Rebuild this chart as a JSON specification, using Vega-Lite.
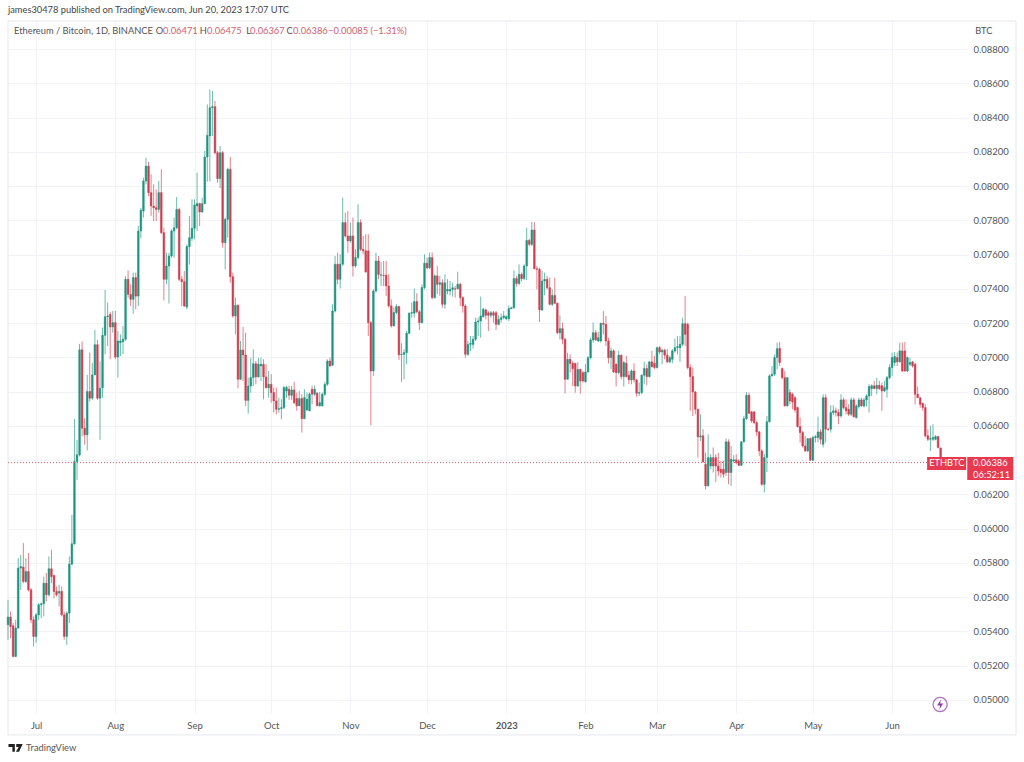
{
"$schema":"https://vega.github.io/schema/vega-lite/v6.json",
"width":960,"height":692,
"autosize":{"type":"none"},
"padding":{"left":8,"top":21,"right":56,"bottom":49},
"background":"#ffffff",
"view":{"stroke":null},
"title":{"text":"james30478 published on TradingView.com, Jun 20, 2023 17:07 UTC","anchor":"start","frame":"group","font":"Lato","fontSize":9.3,"fontWeight":"normal","color":"#444444","offset":5},
"config":{"font":"Lato","axisRight":{"title":null,"domain":false,"ticks":false,"grid":true,"gridColor":"#f1f3f8","labelPadding":5,"labelFont":"Lato","labelFontSize":9.5,"labelColor":"#555555","format":".5f","tickCount":20}},
"datasets":{
"frame":[{"d":"2022-06-20","d2":"2023-07-19T12:00:00Z","y":0.08964,"y2":0.04796}],
"last":[{"d":"2022-06-20","d2":"2023-06-30T17:00:00Z","y":0.06386}],
"boxes":[{"d":"2023-06-14T17:00:00Z","d2":"2023-06-30","y":0.06419,"y2":0.06343},{"d":"2023-06-30T10:00:00Z","d2":"2023-07-18T10:00:00Z","y":0.06419,"y2":0.06284}],
"labels":[
{"label":"Ethereum / Bitcoin, 1D, BINANCE","d":"2022-06-22T09:00:00Z","y":0.08906,"kind":"key"},
{"label":"O","d":"2022-08-16T19:00:00Z","y":0.08906,"kind":"key"},
{"label":"0.06471","d":"2022-08-19T17:00:00Z","y":0.08906,"kind":"val"},
{"label":"H","d":"2022-09-03","y":0.08906,"kind":"key"},
{"label":"0.06475","d":"2022-09-05T22:00:00Z","y":0.08906,"kind":"val"},
{"label":"L","d":"2022-09-21T05:00:00Z","y":0.08906,"kind":"key"},
{"label":"0.06367","d":"2022-09-22T18:00:00Z","y":0.08906,"kind":"val"},
{"label":"C","d":"2022-10-07","y":0.08906,"kind":"key"},
{"label":"0.06386","d":"2022-10-09T14:00:00Z","y":0.08906,"kind":"val"},
{"label":"−0.00085 (−1.31%)","d":"2022-10-23T07:00:00Z","y":0.08906,"kind":"val"},
{"label":"BTC","d":"2023-07-03T12:00:00Z","y":0.08906,"kind":"key"},
{"label":"ETHBTC","d":"2023-06-15T12:00:00Z","y":0.06381,"kind":"onred"},
{"label":"0.06386","d":"2023-07-02T17:00:00Z","y":0.06384,"kind":"onred"},
{"label":"06:52:11","d":"2023-07-02T17:00:00Z","y":0.06316,"kind":"onred"},
{"label":"TradingView","d":"2022-06-27T02:00:00Z","y":0.0472,"kind":"key"}
],
"ring":[{"d":"2023-06-19T19:00:00Z","y":0.04974}],
"logo":[{"d":"2022-06-22T23:00:00Z","y":0.0472}],
"candles":[
{"d":"2022-06-20","o":0.05439,"h":0.05585,"l":0.05351,"c":0.05484},
{"d":"2022-06-21","o":0.05484,"h":0.05517,"l":0.05361,"c":0.05429},
{"d":"2022-06-22","o":0.05433,"h":0.05449,"l":0.0525,"c":0.05254},
{"d":"2022-06-23","o":0.05254,"h":0.05468,"l":0.0525,"c":0.05419},
{"d":"2022-06-24","o":0.05419,"h":0.05828,"l":0.05419,"c":0.0577},
{"d":"2022-06-25","o":0.0577,"h":0.05848,"l":0.05643,"c":0.05779},
{"d":"2022-06-26","o":0.05776,"h":0.05916,"l":0.05682,"c":0.05692},
{"d":"2022-06-27","o":0.05692,"h":0.05828,"l":0.05682,"c":0.0575},
{"d":"2022-06-28","o":0.0575,"h":0.05857,"l":0.05634,"c":0.05643},
{"d":"2022-06-29","o":0.05643,"h":0.05653,"l":0.05449,"c":0.05468},
{"d":"2022-06-30","o":0.05468,"h":0.05488,"l":0.05312,"c":0.05371},
{"d":"2022-07-01","o":0.05371,"h":0.05507,"l":0.05332,"c":0.05497},
{"d":"2022-07-02","o":0.05497,"h":0.05565,"l":0.05468,"c":0.05556},
{"d":"2022-07-03","o":0.05556,"h":0.05569,"l":0.05478,"c":0.05562},
{"d":"2022-07-04","o":0.05562,"h":0.0572,"l":0.05488,"c":0.05682},
{"d":"2022-07-05","o":0.05682,"h":0.05741,"l":0.05575,"c":0.05614},
{"d":"2022-07-06","o":0.05614,"h":0.05838,"l":0.05604,"c":0.05766},
{"d":"2022-07-07","o":0.05766,"h":0.05877,"l":0.05682,"c":0.0572},
{"d":"2022-07-08","o":0.05727,"h":0.05731,"l":0.05595,"c":0.05634},
{"d":"2022-07-09","o":0.05634,"h":0.05663,"l":0.05604,"c":0.05614},
{"d":"2022-07-10","o":0.05624,"h":0.05672,"l":0.05546,"c":0.05634},
{"d":"2022-07-11","o":0.05634,"h":0.05663,"l":0.05488,"c":0.05497},
{"d":"2022-07-12","o":0.05497,"h":0.05517,"l":0.05351,"c":0.05371},
{"d":"2022-07-13","o":0.05371,"h":0.05517,"l":0.05322,"c":0.05507},
{"d":"2022-07-14","o":0.05507,"h":0.05838,"l":0.05449,"c":0.05793},
{"d":"2022-07-15","o":0.05793,"h":0.06081,"l":0.05789,"c":0.05912},
{"d":"2022-07-16","o":0.05912,"h":0.0664,"l":0.05906,"c":0.06392},
{"d":"2022-07-17","o":0.06392,"h":0.06519,"l":0.06285,"c":0.06431},
{"d":"2022-07-18","o":0.06431,"h":0.07079,"l":0.06422,"c":0.07044},
{"d":"2022-07-19","o":0.07044,"h":0.07093,"l":0.06538,"c":0.06587},
{"d":"2022-07-20","o":0.06587,"h":0.06645,"l":0.0649,"c":0.06548},
{"d":"2022-07-21","o":0.06548,"h":0.06898,"l":0.06457,"c":0.06801},
{"d":"2022-07-22","o":0.06801,"h":0.07029,"l":0.06743,"c":0.06762},
{"d":"2022-07-23","o":0.06762,"h":0.06967,"l":0.06752,"c":0.06898},
{"d":"2022-07-24","o":0.06898,"h":0.07161,"l":0.06898,"c":0.07074},
{"d":"2022-07-25","o":0.07074,"h":0.07103,"l":0.06752,"c":0.06762},
{"d":"2022-07-26","o":0.06762,"h":0.06976,"l":0.06519,"c":0.0682},
{"d":"2022-07-27","o":0.06823,"h":0.07174,"l":0.06765,"c":0.07129},
{"d":"2022-07-28","o":0.07129,"h":0.07394,"l":0.07018,"c":0.07238},
{"d":"2022-07-29","o":0.07238,"h":0.0732,"l":0.07067,"c":0.07242},
{"d":"2022-07-30","o":0.07251,"h":0.07267,"l":0.06989,"c":0.07178},
{"d":"2022-07-31","o":0.07178,"h":0.07271,"l":0.07144,"c":0.07203},
{"d":"2022-08-01","o":0.07203,"h":0.07271,"l":0.06989,"c":0.07002},
{"d":"2022-08-02","o":0.07002,"h":0.07154,"l":0.06882,"c":0.07096},
{"d":"2022-08-03","o":0.07086,"h":0.07135,"l":0.07008,"c":0.07096},
{"d":"2022-08-04","o":0.07092,"h":0.07183,"l":0.07018,"c":0.07106},
{"d":"2022-08-05","o":0.07106,"h":0.07475,"l":0.07096,"c":0.07456},
{"d":"2022-08-06","o":0.07456,"h":0.07508,"l":0.07349,"c":0.07368},
{"d":"2022-08-07","o":0.07368,"h":0.07427,"l":0.073,"c":0.07339},
{"d":"2022-08-08","o":0.07339,"h":0.07495,"l":0.07255,"c":0.07466},
{"d":"2022-08-09","o":0.07466,"h":0.07495,"l":0.07281,"c":0.07358},
{"d":"2022-08-10","o":0.07358,"h":0.07767,"l":0.073,"c":0.07738},
{"d":"2022-08-11","o":0.07738,"h":0.07874,"l":0.07695,"c":0.07859},
{"d":"2022-08-12","o":0.07855,"h":0.08049,"l":0.07816,"c":0.0803},
{"d":"2022-08-13","o":0.0803,"h":0.08166,"l":0.0801,"c":0.08117},
{"d":"2022-08-14","o":0.08117,"h":0.08143,"l":0.07942,"c":0.07962},
{"d":"2022-08-15","o":0.07962,"h":0.08069,"l":0.07826,"c":0.07884},
{"d":"2022-08-16","o":0.07884,"h":0.0801,"l":0.07796,"c":0.07874},
{"d":"2022-08-17","o":0.07874,"h":0.07981,"l":0.07796,"c":0.07864},
{"d":"2022-08-18","o":0.07864,"h":0.0803,"l":0.07845,"c":0.07962},
{"d":"2022-08-19","o":0.07962,"h":0.08098,"l":0.07719,"c":0.07728},
{"d":"2022-08-20","o":0.07728,"h":0.07757,"l":0.07333,"c":0.07456},
{"d":"2022-08-21","o":0.07456,"h":0.07611,"l":0.07427,"c":0.07534},
{"d":"2022-08-22","o":0.07534,"h":0.07611,"l":0.07314,"c":0.07592},
{"d":"2022-08-23","o":0.07592,"h":0.07748,"l":0.07582,"c":0.07738},
{"d":"2022-08-24","o":0.07738,"h":0.07816,"l":0.07582,"c":0.07757},
{"d":"2022-08-25","o":0.07757,"h":0.07936,"l":0.07748,"c":0.07864},
{"d":"2022-08-26","o":0.07864,"h":0.07874,"l":0.07446,"c":0.07456},
{"d":"2022-08-27","o":0.07456,"h":0.07475,"l":0.073,"c":0.07442},
{"d":"2022-08-28","o":0.07442,"h":0.07504,"l":0.07294,"c":0.073},
{"d":"2022-08-29","o":0.07294,"h":0.0766,"l":0.07281,"c":0.07647},
{"d":"2022-08-30","o":0.07647,"h":0.07826,"l":0.07543,"c":0.07699},
{"d":"2022-08-31","o":0.07695,"h":0.07923,"l":0.0768,"c":0.07754},
{"d":"2022-09-01","o":0.07754,"h":0.07923,"l":0.07689,"c":0.0789},
{"d":"2022-09-02","o":0.07884,"h":0.08079,"l":0.07738,"c":0.07898},
{"d":"2022-09-03","o":0.07898,"h":0.07903,"l":0.07767,"c":0.07849},
{"d":"2022-09-04","o":0.07849,"h":0.07933,"l":0.07845,"c":0.07898},
{"d":"2022-09-05","o":0.07898,"h":0.08205,"l":0.07894,"c":0.0817},
{"d":"2022-09-06","o":0.0817,"h":0.08477,"l":0.08026,"c":0.08296},
{"d":"2022-09-07","o":0.08293,"h":0.08565,"l":0.08026,"c":0.08458},
{"d":"2022-09-08","o":0.08458,"h":0.08555,"l":0.08293,"c":0.08464},
{"d":"2022-09-09","o":0.08464,"h":0.08497,"l":0.08186,"c":0.08195},
{"d":"2022-09-10","o":0.08195,"h":0.08205,"l":0.0802,"c":0.08044},
{"d":"2022-09-11","o":0.08044,"h":0.08234,"l":0.07987,"c":0.08195},
{"d":"2022-09-12","o":0.08195,"h":0.08205,"l":0.07641,"c":0.0767},
{"d":"2022-09-13","o":0.0767,"h":0.07816,"l":0.07514,"c":0.07806},
{"d":"2022-09-14","o":0.07806,"h":0.08108,"l":0.07699,"c":0.08098},
{"d":"2022-09-15","o":0.08098,"h":0.0817,"l":0.07436,"c":0.07471},
{"d":"2022-09-16","o":0.07471,"h":0.07495,"l":0.07232,"c":0.07242},
{"d":"2022-09-17","o":0.07242,"h":0.07349,"l":0.07135,"c":0.07304},
{"d":"2022-09-18","o":0.07304,"h":0.0731,"l":0.06819,"c":0.06872},
{"d":"2022-09-19","o":0.06872,"h":0.07096,"l":0.06872,"c":0.07043},
{"d":"2022-09-20","o":0.07043,"h":0.07178,"l":0.06862,"c":0.07014},
{"d":"2022-09-21","o":0.07014,"h":0.07144,"l":0.06716,"c":0.06749},
{"d":"2022-09-22","o":0.06749,"h":0.06882,"l":0.06672,"c":0.06833},
{"d":"2022-09-23","o":0.06833,"h":0.06998,"l":0.06794,"c":0.06882},
{"d":"2022-09-24","o":0.06882,"h":0.07047,"l":0.06833,"c":0.06963},
{"d":"2022-09-25","o":0.06963,"h":0.06979,"l":0.06843,"c":0.06886},
{"d":"2022-09-26","o":0.06886,"h":0.06998,"l":0.06882,"c":0.0696},
{"d":"2022-09-27","o":0.0695,"h":0.06998,"l":0.06862,"c":0.0696},
{"d":"2022-09-28","o":0.0696,"h":0.06989,"l":0.06755,"c":0.06886},
{"d":"2022-09-29","o":0.06886,"h":0.0696,"l":0.06819,"c":0.06823},
{"d":"2022-09-30","o":0.06823,"h":0.06921,"l":0.06765,"c":0.06843},
{"d":"2022-10-01","o":0.06843,"h":0.06902,"l":0.06736,"c":0.06795},
{"d":"2022-10-02","o":0.06795,"h":0.06824,"l":0.06678,"c":0.06746},
{"d":"2022-10-03","o":0.06746,"h":0.06824,"l":0.06668,"c":0.06697},
{"d":"2022-10-04","o":0.06697,"h":0.06765,"l":0.06678,"c":0.06701},
{"d":"2022-10-05","o":0.06701,"h":0.06756,"l":0.06639,"c":0.06707},
{"d":"2022-10-06","o":0.06707,"h":0.06834,"l":0.06697,"c":0.06824},
{"d":"2022-10-07","o":0.06804,"h":0.06834,"l":0.06765,"c":0.06824},
{"d":"2022-10-08","o":0.06814,"h":0.06834,"l":0.06752,"c":0.06779},
{"d":"2022-10-09","o":0.06779,"h":0.06834,"l":0.06752,"c":0.0681},
{"d":"2022-10-10","o":0.0681,"h":0.06857,"l":0.06726,"c":0.06736},
{"d":"2022-10-11","o":0.0676,"h":0.06795,"l":0.06688,"c":0.06717},
{"d":"2022-10-12","o":0.06717,"h":0.06804,"l":0.06717,"c":0.0676},
{"d":"2022-10-13","o":0.0676,"h":0.06785,"l":0.06561,"c":0.06643},
{"d":"2022-10-14","o":0.06643,"h":0.06814,"l":0.06639,"c":0.06765},
{"d":"2022-10-15","o":0.06693,"h":0.06795,"l":0.06688,"c":0.06756},
{"d":"2022-10-16","o":0.06688,"h":0.06795,"l":0.06688,"c":0.06785},
{"d":"2022-10-17","o":0.06814,"h":0.06834,"l":0.06726,"c":0.06785},
{"d":"2022-10-18","o":0.06785,"h":0.06837,"l":0.06775,"c":0.06814},
{"d":"2022-10-19","o":0.06791,"h":0.06798,"l":0.06717,"c":0.06717},
{"d":"2022-10-20","o":0.06717,"h":0.06798,"l":0.06713,"c":0.06736},
{"d":"2022-10-21","o":0.06717,"h":0.06795,"l":0.06713,"c":0.06785},
{"d":"2022-10-22","o":0.06785,"h":0.06857,"l":0.06775,"c":0.06843},
{"d":"2022-10-23","o":0.06843,"h":0.06989,"l":0.06834,"c":0.06979},
{"d":"2022-10-24","o":0.06979,"h":0.06999,"l":0.06946,"c":0.0695},
{"d":"2022-10-25","o":0.06954,"h":0.0731,"l":0.0695,"c":0.07271},
{"d":"2022-10-26","o":0.07271,"h":0.07592,"l":0.07262,"c":0.07544},
{"d":"2022-10-27","o":0.07544,"h":0.07612,"l":0.07427,"c":0.07456},
{"d":"2022-10-28","o":0.07456,"h":0.07602,"l":0.07402,"c":0.07544},
{"d":"2022-10-29","o":0.07544,"h":0.07933,"l":0.07534,"c":0.07787},
{"d":"2022-10-30","o":0.07787,"h":0.07845,"l":0.07699,"c":0.07709},
{"d":"2022-10-31","o":0.07709,"h":0.07855,"l":0.07612,"c":0.0768},
{"d":"2022-11-01","o":0.0768,"h":0.07787,"l":0.0767,"c":0.07709},
{"d":"2022-11-02","o":0.07709,"h":0.07816,"l":0.07472,"c":0.07534},
{"d":"2022-11-03","o":0.07534,"h":0.07631,"l":0.07524,"c":0.07583},
{"d":"2022-11-04","o":0.07583,"h":0.07894,"l":0.07573,"c":0.07787},
{"d":"2022-11-05","o":0.07787,"h":0.07807,"l":0.07622,"c":0.07631},
{"d":"2022-11-06","o":0.07631,"h":0.07709,"l":0.07602,"c":0.07622},
{"d":"2022-11-07","o":0.07622,"h":0.07719,"l":0.07495,"c":0.07499},
{"d":"2022-11-08","o":0.07622,"h":0.07719,"l":0.07125,"c":0.07203},
{"d":"2022-11-09","o":0.07203,"h":0.07213,"l":0.06604,"c":0.06921},
{"d":"2022-11-10","o":0.06921,"h":0.07398,"l":0.06892,"c":0.07388},
{"d":"2022-11-11","o":0.07388,"h":0.07612,"l":0.07378,"c":0.07563},
{"d":"2022-11-12","o":0.07563,"h":0.07592,"l":0.07456,"c":0.07485},
{"d":"2022-11-13","o":0.0748,"h":0.07557,"l":0.07417,"c":0.07482},
{"d":"2022-11-14","o":0.0748,"h":0.07563,"l":0.07417,"c":0.07478},
{"d":"2022-11-15","o":0.0748,"h":0.07563,"l":0.07359,"c":0.07417},
{"d":"2022-11-16","o":0.07417,"h":0.07485,"l":0.07291,"c":0.07301},
{"d":"2022-11-17","o":0.07301,"h":0.07339,"l":0.07174,"c":0.07184},
{"d":"2022-11-18","o":0.07184,"h":0.07291,"l":0.0718,"c":0.07262},
{"d":"2022-11-19","o":0.07262,"h":0.0731,"l":0.07252,"c":0.07297},
{"d":"2022-11-20","o":0.07297,"h":0.07301,"l":0.06985,"c":0.07015},
{"d":"2022-11-21","o":0.07015,"h":0.07083,"l":0.06857,"c":0.07018},
{"d":"2022-11-22","o":0.07018,"h":0.07048,"l":0.06872,"c":0.07028},
{"d":"2022-11-23","o":0.07028,"h":0.07155,"l":0.0696,"c":0.07141},
{"d":"2022-11-24","o":0.07141,"h":0.07262,"l":0.07135,"c":0.07258},
{"d":"2022-11-25","o":0.07258,"h":0.0732,"l":0.07232,"c":0.07262},
{"d":"2022-11-26","o":0.07258,"h":0.07402,"l":0.07232,"c":0.07326},
{"d":"2022-11-27","o":0.07326,"h":0.07375,"l":0.07258,"c":0.07266},
{"d":"2022-11-28","o":0.07266,"h":0.07277,"l":0.0716,"c":0.07203},
{"d":"2022-11-29","o":0.07203,"h":0.07427,"l":0.07199,"c":0.07408},
{"d":"2022-11-30","o":0.07408,"h":0.07602,"l":0.07398,"c":0.0755},
{"d":"2022-12-01","o":0.0755,"h":0.07583,"l":0.07515,"c":0.07524},
{"d":"2022-12-02","o":0.07524,"h":0.07612,"l":0.07515,"c":0.07583},
{"d":"2022-12-03","o":0.07583,"h":0.07612,"l":0.07339,"c":0.07349},
{"d":"2022-12-04","o":0.07349,"h":0.07485,"l":0.07343,"c":0.07476},
{"d":"2022-12-05","o":0.07476,"h":0.07534,"l":0.07369,"c":0.07427},
{"d":"2022-12-06","o":0.07427,"h":0.07475,"l":0.07359,"c":0.07436},
{"d":"2022-12-07","o":0.07436,"h":0.07456,"l":0.0729,"c":0.0731},
{"d":"2022-12-08","o":0.0731,"h":0.07485,"l":0.07285,"c":0.07436},
{"d":"2022-12-09","o":0.07388,"h":0.07456,"l":0.07368,"c":0.07397},
{"d":"2022-12-10","o":0.07388,"h":0.07446,"l":0.07362,"c":0.07397},
{"d":"2022-12-11","o":0.07397,"h":0.07436,"l":0.07355,"c":0.07407},
{"d":"2022-12-12","o":0.07401,"h":0.07417,"l":0.07349,"c":0.07399},
{"d":"2022-12-13","o":0.07401,"h":0.07501,"l":0.07397,"c":0.07427},
{"d":"2022-12-14","o":0.07427,"h":0.07436,"l":0.073,"c":0.07349},
{"d":"2022-12-15","o":0.07349,"h":0.07355,"l":0.07261,"c":0.073},
{"d":"2022-12-16","o":0.073,"h":0.0731,"l":0.06998,"c":0.07018},
{"d":"2022-12-17","o":0.07018,"h":0.07096,"l":0.07008,"c":0.07076},
{"d":"2022-12-18","o":0.07076,"h":0.07125,"l":0.07037,"c":0.07082},
{"d":"2022-12-19","o":0.07076,"h":0.07125,"l":0.07051,"c":0.07106},
{"d":"2022-12-20","o":0.07106,"h":0.07232,"l":0.07096,"c":0.07207},
{"d":"2022-12-21","o":0.07207,"h":0.07232,"l":0.07125,"c":0.07213},
{"d":"2022-12-22","o":0.07213,"h":0.07355,"l":0.07115,"c":0.07242},
{"d":"2022-12-23","o":0.07238,"h":0.0729,"l":0.07232,"c":0.07281},
{"d":"2022-12-24","o":0.07277,"h":0.07285,"l":0.07222,"c":0.07246},
{"d":"2022-12-25","o":0.07261,"h":0.07271,"l":0.07154,"c":0.07246},
{"d":"2022-12-26","o":0.07246,"h":0.07271,"l":0.07232,"c":0.07261},
{"d":"2022-12-27","o":0.07261,"h":0.07271,"l":0.07203,"c":0.07246},
{"d":"2022-12-28","o":0.07261,"h":0.07271,"l":0.0716,"c":0.07193},
{"d":"2022-12-29","o":0.07193,"h":0.07246,"l":0.07187,"c":0.07222},
{"d":"2022-12-30","o":0.07222,"h":0.07257,"l":0.07203,"c":0.07232},
{"d":"2022-12-31","o":0.07232,"h":0.07271,"l":0.07222,"c":0.07242},
{"d":"2023-01-01","o":0.07226,"h":0.07246,"l":0.07218,"c":0.07238},
{"d":"2023-01-02","o":0.07226,"h":0.07304,"l":0.07213,"c":0.07285},
{"d":"2023-01-03","o":0.07285,"h":0.07296,"l":0.07281,"c":0.0729},
{"d":"2023-01-04","o":0.0729,"h":0.07508,"l":0.07285,"c":0.0746},
{"d":"2023-01-05","o":0.0746,"h":0.07475,"l":0.07413,"c":0.07432},
{"d":"2023-01-06","o":0.07432,"h":0.07543,"l":0.07421,"c":0.07485},
{"d":"2023-01-07","o":0.07485,"h":0.07495,"l":0.07446,"c":0.0746},
{"d":"2023-01-08","o":0.0746,"h":0.07543,"l":0.07452,"c":0.07534},
{"d":"2023-01-09","o":0.07534,"h":0.07757,"l":0.07452,"c":0.07683},
{"d":"2023-01-10","o":0.07683,"h":0.07693,"l":0.0765,"c":0.0766},
{"d":"2023-01-11","o":0.0766,"h":0.07792,"l":0.0765,"c":0.07744},
{"d":"2023-01-12","o":0.07744,"h":0.0779,"l":0.07514,"c":0.07518},
{"d":"2023-01-13","o":0.07518,"h":0.07534,"l":0.07397,"c":0.07514},
{"d":"2023-01-14","o":0.07514,"h":0.07524,"l":0.07207,"c":0.07277},
{"d":"2023-01-15","o":0.07277,"h":0.07504,"l":0.07271,"c":0.07446},
{"d":"2023-01-16","o":0.07446,"h":0.07495,"l":0.07362,"c":0.07456},
{"d":"2023-01-17","o":0.07456,"h":0.07475,"l":0.07397,"c":0.07407},
{"d":"2023-01-18","o":0.07407,"h":0.07466,"l":0.07304,"c":0.0731},
{"d":"2023-01-19","o":0.0731,"h":0.07397,"l":0.073,"c":0.07362},
{"d":"2023-01-20","o":0.07362,"h":0.07466,"l":0.0731,"c":0.07316},
{"d":"2023-01-21","o":0.07316,"h":0.0732,"l":0.07135,"c":0.07144},
{"d":"2023-01-22","o":0.07144,"h":0.07246,"l":0.07106,"c":0.07168},
{"d":"2023-01-23","o":0.07168,"h":0.07203,"l":0.07076,"c":0.07106},
{"d":"2023-01-24","o":0.07106,"h":0.07115,"l":0.0679,"c":0.06872},
{"d":"2023-01-25","o":0.06872,"h":0.07028,"l":0.06872,"c":0.06989},
{"d":"2023-01-26","o":0.06989,"h":0.07018,"l":0.06911,"c":0.06965},
{"d":"2023-01-27","o":0.06965,"h":0.06979,"l":0.06833,"c":0.06934},
{"d":"2023-01-28","o":0.06965,"h":0.06969,"l":0.06794,"c":0.06833},
{"d":"2023-01-29","o":0.06833,"h":0.06973,"l":0.06829,"c":0.0693},
{"d":"2023-01-30","o":0.0693,"h":0.06934,"l":0.06788,"c":0.06862},
{"d":"2023-01-31","o":0.06911,"h":0.06921,"l":0.06853,"c":0.06862},
{"d":"2023-02-01","o":0.06858,"h":0.0696,"l":0.06853,"c":0.06915},
{"d":"2023-02-02","o":0.06915,"h":0.07008,"l":0.06911,"c":0.06998},
{"d":"2023-02-03","o":0.06998,"h":0.07115,"l":0.06989,"c":0.07102},
{"d":"2023-02-04","o":0.07102,"h":0.07203,"l":0.07086,"c":0.07144},
{"d":"2023-02-05","o":0.07144,"h":0.0716,"l":0.07096,"c":0.07102},
{"d":"2023-02-06","o":0.07096,"h":0.07148,"l":0.0709,"c":0.07115},
{"d":"2023-02-07","o":0.07096,"h":0.07203,"l":0.07086,"c":0.07199},
{"d":"2023-02-08","o":0.07199,"h":0.07271,"l":0.07135,"c":0.07193},
{"d":"2023-02-09","o":0.07193,"h":0.07242,"l":0.07067,"c":0.07096},
{"d":"2023-02-10","o":0.07096,"h":0.07115,"l":0.06965,"c":0.06998},
{"d":"2023-02-11","o":0.06999,"h":0.07057,"l":0.06931,"c":0.07038},
{"d":"2023-02-12","o":0.07038,"h":0.07048,"l":0.06911,"c":0.06915},
{"d":"2023-02-13","o":0.0696,"h":0.06966,"l":0.0683,"c":0.06911},
{"d":"2023-02-14","o":0.06911,"h":0.07038,"l":0.06902,"c":0.07013},
{"d":"2023-02-15","o":0.07013,"h":0.07018,"l":0.06872,"c":0.06888},
{"d":"2023-02-16","o":0.06888,"h":0.06979,"l":0.0683,"c":0.0697},
{"d":"2023-02-17","o":0.06966,"h":0.07009,"l":0.06882,"c":0.06888},
{"d":"2023-02-18","o":0.06896,"h":0.06921,"l":0.06843,"c":0.06869},
{"d":"2023-02-19","o":0.06869,"h":0.06931,"l":0.06843,"c":0.06921},
{"d":"2023-02-20","o":0.06921,"h":0.06966,"l":0.06853,"c":0.06869},
{"d":"2023-02-21","o":0.06869,"h":0.06872,"l":0.06771,"c":0.06791},
{"d":"2023-02-22","o":0.06791,"h":0.06853,"l":0.06775,"c":0.06795},
{"d":"2023-02-23","o":0.06795,"h":0.06902,"l":0.06785,"c":0.06896},
{"d":"2023-02-24","o":0.06896,"h":0.06974,"l":0.06843,"c":0.06935},
{"d":"2023-02-25","o":0.06935,"h":0.0696,"l":0.06837,"c":0.06888},
{"d":"2023-02-26","o":0.06888,"h":0.06979,"l":0.06882,"c":0.06974},
{"d":"2023-02-27","o":0.06974,"h":0.07038,"l":0.06941,"c":0.06946},
{"d":"2023-02-28","o":0.06966,"h":0.07009,"l":0.06931,"c":0.06941},
{"d":"2023-03-01","o":0.06941,"h":0.07063,"l":0.06935,"c":0.07057},
{"d":"2023-03-02","o":0.07057,"h":0.07067,"l":0.07018,"c":0.07032},
{"d":"2023-03-03","o":0.07032,"h":0.07051,"l":0.0696,"c":0.07042},
{"d":"2023-03-04","o":0.07042,"h":0.07051,"l":0.06989,"c":0.07013},
{"d":"2023-03-05","o":0.07013,"h":0.07048,"l":0.06966,"c":0.06974},
{"d":"2023-03-06","o":0.06974,"h":0.07009,"l":0.06966,"c":0.06999},
{"d":"2023-03-07","o":0.06989,"h":0.07048,"l":0.06966,"c":0.07038},
{"d":"2023-03-08","o":0.07038,"h":0.0711,"l":0.07028,"c":0.07057},
{"d":"2023-03-09","o":0.07057,"h":0.07125,"l":0.07018,"c":0.07063},
{"d":"2023-03-10","o":0.07057,"h":0.07125,"l":0.06974,"c":0.07077},
{"d":"2023-03-11","o":0.07077,"h":0.07232,"l":0.07067,"c":0.07197},
{"d":"2023-03-12","o":0.07197,"h":0.07359,"l":0.07067,"c":0.07135},
{"d":"2023-03-13","o":0.07194,"h":0.07203,"l":0.06931,"c":0.06941},
{"d":"2023-03-14","o":0.06941,"h":0.0696,"l":0.06688,"c":0.06888},
{"d":"2023-03-15","o":0.06888,"h":0.06941,"l":0.06658,"c":0.06798},
{"d":"2023-03-16","o":0.06798,"h":0.06804,"l":0.06668,"c":0.06697},
{"d":"2023-03-17","o":0.06697,"h":0.06701,"l":0.06415,"c":0.06536},
{"d":"2023-03-18","o":0.06536,"h":0.06668,"l":0.06512,"c":0.06542},
{"d":"2023-03-19","o":0.06542,"h":0.06581,"l":0.06386,"c":0.0639},
{"d":"2023-03-20","o":0.06376,"h":0.06444,"l":0.0623,"c":0.0625},
{"d":"2023-03-21","o":0.0625,"h":0.06551,"l":0.06246,"c":0.06415},
{"d":"2023-03-22","o":0.06366,"h":0.06435,"l":0.06347,"c":0.06415},
{"d":"2023-03-23","o":0.06415,"h":0.06474,"l":0.06328,"c":0.06366},
{"d":"2023-03-24","o":0.06415,"h":0.06435,"l":0.06273,"c":0.06366},
{"d":"2023-03-25","o":0.06366,"h":0.06444,"l":0.06308,"c":0.06337},
{"d":"2023-03-26","o":0.06347,"h":0.06396,"l":0.06298,"c":0.06328},
{"d":"2023-03-27","o":0.06347,"h":0.06396,"l":0.06298,"c":0.06318},
{"d":"2023-03-28","o":0.06328,"h":0.06528,"l":0.06308,"c":0.06507},
{"d":"2023-03-29","o":0.06507,"h":0.06522,"l":0.06259,"c":0.06328},
{"d":"2023-03-30","o":0.06328,"h":0.06483,"l":0.0625,"c":0.06405},
{"d":"2023-03-31","o":0.06396,"h":0.06429,"l":0.06386,"c":0.06402},
{"d":"2023-04-01","o":0.06402,"h":0.06435,"l":0.06376,"c":0.06386},
{"d":"2023-04-02","o":0.06396,"h":0.06405,"l":0.06366,"c":0.0637},
{"d":"2023-04-03","o":0.0637,"h":0.06512,"l":0.06366,"c":0.06507},
{"d":"2023-04-04","o":0.06507,"h":0.06658,"l":0.06503,"c":0.06643},
{"d":"2023-04-05","o":0.06643,"h":0.06798,"l":0.06635,"c":0.06779},
{"d":"2023-04-06","o":0.06779,"h":0.06795,"l":0.06668,"c":0.06674},
{"d":"2023-04-07","o":0.06682,"h":0.06688,"l":0.06619,"c":0.06629},
{"d":"2023-04-08","o":0.06682,"h":0.06688,"l":0.0661,"c":0.06619},
{"d":"2023-04-09","o":0.06619,"h":0.06629,"l":0.06542,"c":0.06565},
{"d":"2023-04-10","o":0.06565,"h":0.06571,"l":0.06425,"c":0.06454},
{"d":"2023-04-11","o":0.06454,"h":0.06464,"l":0.0625,"c":0.06259},
{"d":"2023-04-12","o":0.06259,"h":0.06435,"l":0.06211,"c":0.06415},
{"d":"2023-04-13","o":0.06415,"h":0.06658,"l":0.06331,"c":0.06625},
{"d":"2023-04-14","o":0.06625,"h":0.06902,"l":0.06619,"c":0.06892},
{"d":"2023-04-15","o":0.06892,"h":0.0695,"l":0.06888,"c":0.06902},
{"d":"2023-04-16","o":0.06902,"h":0.07018,"l":0.06892,"c":0.06999},
{"d":"2023-04-17","o":0.06999,"h":0.07087,"l":0.06931,"c":0.07051},
{"d":"2023-04-18","o":0.07053,"h":0.0709,"l":0.0695,"c":0.0697},
{"d":"2023-04-19","o":0.06935,"h":0.06941,"l":0.06872,"c":0.06882},
{"d":"2023-04-20","o":0.06882,"h":0.06921,"l":0.06713,"c":0.06717},
{"d":"2023-04-21","o":0.06717,"h":0.06882,"l":0.06713,"c":0.06882},
{"d":"2023-04-22","o":0.06795,"h":0.06814,"l":0.06726,"c":0.06746},
{"d":"2023-04-23","o":0.06785,"h":0.06795,"l":0.06697,"c":0.0674},
{"d":"2023-04-24","o":0.06765,"h":0.06775,"l":0.06678,"c":0.06693},
{"d":"2023-04-25","o":0.06707,"h":0.06713,"l":0.0659,"c":0.06596},
{"d":"2023-04-26","o":0.06596,"h":0.06649,"l":0.06503,"c":0.06561},
{"d":"2023-04-27","o":0.06561,"h":0.06571,"l":0.06474,"c":0.06483},
{"d":"2023-04-28","o":0.06483,"h":0.06542,"l":0.06448,"c":0.06454},
{"d":"2023-04-29","o":0.06454,"h":0.06526,"l":0.06448,"c":0.06526},
{"d":"2023-04-30","o":0.06526,"h":0.06532,"l":0.06396,"c":0.064},
{"d":"2023-05-01","o":0.064,"h":0.06542,"l":0.06396,"c":0.06532},
{"d":"2023-05-02","o":0.06532,"h":0.06546,"l":0.06503,"c":0.06538},
{"d":"2023-05-03","o":0.06532,"h":0.06654,"l":0.06503,"c":0.06565},
{"d":"2023-05-04","o":0.06565,"h":0.06581,"l":0.06493,"c":0.06522},
{"d":"2023-05-05","o":0.06493,"h":0.06785,"l":0.06474,"c":0.06765},
{"d":"2023-05-06","o":0.06765,"h":0.06785,"l":0.06503,"c":0.06581},
{"d":"2023-05-07","o":0.06581,"h":0.0659,"l":0.06571,"c":0.06579},
{"d":"2023-05-08","o":0.06581,"h":0.06721,"l":0.06561,"c":0.06678},
{"d":"2023-05-09","o":0.06678,"h":0.06721,"l":0.06662,"c":0.06688},
{"d":"2023-05-10","o":0.06688,"h":0.06707,"l":0.06654,"c":0.06678},
{"d":"2023-05-11","o":0.06678,"h":0.06697,"l":0.0661,"c":0.06658},
{"d":"2023-05-12","o":0.06658,"h":0.06785,"l":0.06649,"c":0.06752},
{"d":"2023-05-13","o":0.06752,"h":0.06765,"l":0.06697,"c":0.06707},
{"d":"2023-05-14","o":0.06707,"h":0.06756,"l":0.06668,"c":0.06688},
{"d":"2023-05-15","o":0.06697,"h":0.06726,"l":0.06658,"c":0.06668},
{"d":"2023-05-16","o":0.06668,"h":0.06765,"l":0.06658,"c":0.06752},
{"d":"2023-05-17","o":0.06752,"h":0.06765,"l":0.06649,"c":0.06654},
{"d":"2023-05-18","o":0.06649,"h":0.06726,"l":0.06643,"c":0.06717},
{"d":"2023-05-19","o":0.06713,"h":0.06765,"l":0.06701,"c":0.06752},
{"d":"2023-05-20","o":0.06752,"h":0.06765,"l":0.06713,"c":0.06717},
{"d":"2023-05-21","o":0.06717,"h":0.06765,"l":0.06707,"c":0.06752},
{"d":"2023-05-22","o":0.06752,"h":0.06785,"l":0.06713,"c":0.06775},
{"d":"2023-05-23","o":0.06775,"h":0.06843,"l":0.06678,"c":0.0683},
{"d":"2023-05-24","o":0.06818,"h":0.06843,"l":0.06775,"c":0.06834},
{"d":"2023-05-25","o":0.06834,"h":0.06863,"l":0.06814,"c":0.06818},
{"d":"2023-05-26","o":0.06818,"h":0.06882,"l":0.06785,"c":0.06837},
{"d":"2023-05-27","o":0.06837,"h":0.06863,"l":0.0681,"c":0.06818},
{"d":"2023-05-28","o":0.06834,"h":0.06853,"l":0.06688,"c":0.06804},
{"d":"2023-05-29","o":0.06804,"h":0.06863,"l":0.06798,"c":0.06824},
{"d":"2023-05-30","o":0.06814,"h":0.06892,"l":0.06765,"c":0.06882},
{"d":"2023-05-31","o":0.06882,"h":0.0696,"l":0.06872,"c":0.06941},
{"d":"2023-06-01","o":0.06941,"h":0.07028,"l":0.06892,"c":0.06999},
{"d":"2023-06-02","o":0.0697,"h":0.07032,"l":0.0695,"c":0.07005},
{"d":"2023-06-03","o":0.06999,"h":0.07028,"l":0.0695,"c":0.06974},
{"d":"2023-06-04","o":0.06974,"h":0.07087,"l":0.0697,"c":0.07038},
{"d":"2023-06-05","o":0.07038,"h":0.07087,"l":0.06915,"c":0.06921},
{"d":"2023-06-06","o":0.07038,"h":0.0709,"l":0.06915,"c":0.06921},
{"d":"2023-06-07","o":0.06921,"h":0.07005,"l":0.06915,"c":0.06999},
{"d":"2023-06-08","o":0.0696,"h":0.06999,"l":0.0695,"c":0.0697},
{"d":"2023-06-09","o":0.06974,"h":0.06979,"l":0.06941,"c":0.0695},
{"d":"2023-06-10","o":0.0696,"h":0.0697,"l":0.06726,"c":0.06785},
{"d":"2023-06-11","o":0.06785,"h":0.0683,"l":0.06765,"c":0.06765},
{"d":"2023-06-12","o":0.06765,"h":0.06765,"l":0.06707,"c":0.06726},
{"d":"2023-06-13","o":0.06732,"h":0.06736,"l":0.06688,"c":0.06707},
{"d":"2023-06-14","o":0.06707,"h":0.06726,"l":0.06532,"c":0.06542},
{"d":"2023-06-15","o":0.06542,"h":0.06581,"l":0.06512,"c":0.06522},
{"d":"2023-06-16","o":0.06522,"h":0.066,"l":0.06454,"c":0.06526},
{"d":"2023-06-17","o":0.06522,"h":0.0661,"l":0.06512,"c":0.06532},
{"d":"2023-06-18","o":0.06522,"h":0.06546,"l":0.06516,"c":0.06538},
{"d":"2023-06-19","o":0.06538,"h":0.06542,"l":0.06468,"c":0.06474},
{"d":"2023-06-20","o":0.06471,"h":0.06475,"l":0.06367,"c":0.06386}
]
},
"encoding":{
"x":{"field":"d","type":"temporal","title":null,
"scale":{"type":"utc","nice":false,"padding":0,"domain":["2022-06-20","2023-06-30T17:00:00Z"]},
"axis":{"orient":"bottom","title":null,"domain":false,"ticks":false,"grid":true,"gridColor":"#f1f3f8","tickCount":"month","labelPadding":7,"labelFontSize":9.5,"labelFont":"Lato","labelColor":"#555555","labelFlush":false,"labelOverlap":false,
"labelExpr":"utcmonth(datum.value)==0 ? utcFormat(datum.value,'%Y') : utcFormat(datum.value,'%b')",
"labelFontWeight":{"condition":{"test":"utcmonth(datum.value)==0","value":"bold"},"value":"normal"}}}
},
"layer":[
{"data":{"name":"frame"},
"mark":{"type":"rect","fill":null,"stroke":"#e6e8ee","strokeWidth":1},
"encoding":{"x2":{"field":"d2"},
"y":{"field":"y","type":"quantitative","title":null,
"scale":{"nice":false,"zero":false,"domain":[0.04924,0.08964]},
"axis":{"orient":"right","labelOverlap":false,"labelBound":false,"tickCount":20,"values":[0.05,0.052,0.054,0.056,0.058,0.06,0.062,0.064,0.066,0.068,0.07,0.072,0.074,0.076,0.078,0.08,0.082,0.084,0.086,0.088]}},
"y2":{"field":"y2"}}},
{"data":{"name":"candles"},
"mark":{"type":"rule","strokeWidth":1,"opacity":0.65},
"encoding":{"y":{"field":"l","type":"quantitative","title":null,"scale":{"nice":false,"zero":false,"domain":[0.04924,0.08964]},"axis":{"orient":"right","labelOverlap":false,"tickCount":20}},"y2":{"field":"h"},
"color":{"condition":{"test":"datum.c>=datum.o","value":"#1f9480"},"value":"#cf3f50"}}},
{"data":{"name":"candles"},
"mark":{"type":"bar","size":1.7,"strokeWidth":0.5},
"encoding":{"y":{"field":"o","type":"quantitative","title":null,"scale":{"nice":false,"zero":false,"domain":[0.04924,0.08964]},"axis":{"orient":"right","labelOverlap":false,"tickCount":20}},"y2":{"field":"c"},
"color":{"condition":{"test":"datum.c>=datum.o","value":"#1f9480"},"value":"#cf3f50"},
"stroke":{"condition":{"test":"datum.c>=datum.o","value":"#1f9480"},"value":"#cf3f50"}}},
{"data":{"name":"last"},
"mark":{"type":"rule","color":"#d0606f","strokeWidth":1,"strokeDash":[1,2]},
"encoding":{"x2":{"field":"d2"},"y":{"field":"y","type":"quantitative","title":null,"scale":{"nice":false,"zero":false,"domain":[0.04924,0.08964]},"axis":{"orient":"right","labelOverlap":false,"tickCount":20}}}},
{"data":{"name":"boxes"},
"mark":{"type":"rect","color":"#e8394f"},
"encoding":{"x2":{"field":"d2"},"y":{"field":"y","type":"quantitative","title":null,"scale":{"nice":false,"zero":false,"domain":[0.04924,0.08964]},"axis":{"orient":"right","labelOverlap":false,"tickCount":20}},"y2":{"field":"y2"}}},
{"data":{"name":"labels"},
"mark":{"type":"text","align":"left","baseline":"middle","fontSize":9.3,"font":"Lato"},
"encoding":{"y":{"field":"y","type":"quantitative","title":null,"scale":{"nice":false,"zero":false,"domain":[0.04924,0.08964]},"axis":{"orient":"right","labelOverlap":false,"tickCount":20}},"text":{"field":"label"},
"color":{"field":"kind","type":"nominal","legend":null,"scale":{"domain":["key","val","onred"],"range":["#555555","#cf6070","#ffffff"]}}}},
{"data":{"name":"ring"},
"mark":{"type":"point","shape":"circle","size":200,"filled":false,"stroke":"#8e3aa8","strokeWidth":1.3},
"encoding":{"y":{"field":"y","type":"quantitative","title":null,"scale":{"nice":false,"zero":false,"domain":[0.04924,0.08964]},"axis":{"orient":"right","labelOverlap":false,"tickCount":20}}}},
{"data":{"name":"ring"},
"mark":{"type":"point","shape":"M0.15,-1L-0.6,0.2L0,0.2L-0.15,1L0.6,-0.2L0,-0.2Z","size":100,"filled":true,"fill":"#8e3aa8","strokeWidth":0,"opacity":1},
"encoding":{"y":{"field":"y","type":"quantitative","title":null,"scale":{"nice":false,"zero":false,"domain":[0.04924,0.08964]},"axis":{"orient":"right","labelOverlap":false,"tickCount":20}}}},
{"data":{"name":"logo"},
"mark":{"type":"point","shape":"M-1,-0.55L-0.1,-0.55L-0.1,0.55L-0.45,0.55L-0.45,-0.15L-1,-0.15ZM0.1,-0.55L1,-0.55L0.5,0.55L0.05,0.55L0.45,-0.15L0.1,-0.15Z","size":200,"filled":true,"fill":"#222222","strokeWidth":0,"opacity":1},
"encoding":{"y":{"field":"y","type":"quantitative","title":null,"scale":{"nice":false,"zero":false,"domain":[0.04924,0.08964]},"axis":{"orient":"right","labelOverlap":false,"tickCount":20}}}}
]
}
